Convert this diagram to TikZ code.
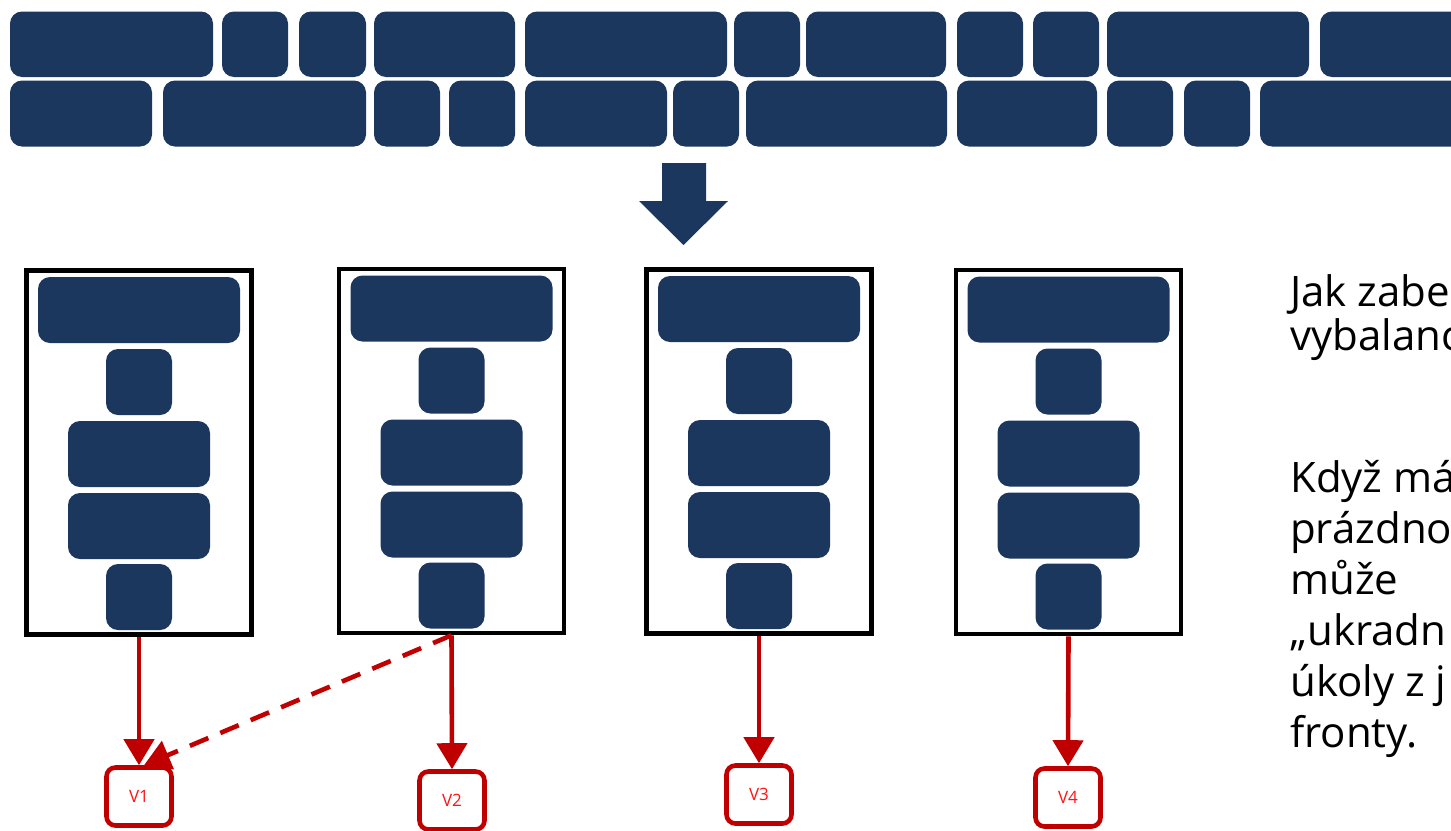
\documentclass[tikz,border=0pt]{standalone}
\usepackage{fontspec}
\setmainfont{Open Sans}
\usetikzlibrary{arrows.meta,calc}
\definecolor{navy}{RGB}{27,55,94}
\definecolor{dred}{RGB}{192,0,0}
\definecolor{lred}{RGB}{255,20,20}
\tikzset{
  blk/.style={fill=navy, rounded corners=12pt},
  frame/.style={draw=black, line width=4.6pt, minimum width=225pt, minimum height=364pt, inner sep=0pt},
  vbox/.style={draw=dred, line width=4.6pt, rounded corners=9pt, minimum width=65pt, minimum height=58pt, inner sep=0pt, text=lred, font=\fontsize{17}{19}\selectfont},
  harrow/.style={draw=dred, line width=4.6pt, -{Triangle[length=26pt,width=30pt]}},
  dasharrow/.style={harrow, dash pattern=on 20pt off 13pt},
  txt/.style={anchor=base west, inner sep=0pt, font=\fontsize{42}{46}\selectfont}
}
\newcommand{\worker}[3]{%
  \node[frame] (f#1) at (#2,#3) {};
  \fill[blk] ({#2-101},{#3-175.5}) rectangle ({#2+101},{#3-109.5});
  \fill[blk] ({#2-33},{#3-103.5}) rectangle ({#2+33},{#3-37.5});
  \fill[blk] ({#2-71},{#3-31.5}) rectangle ({#2+71},{#3+34.5});
  \fill[blk] ({#2-71},{#3+40.5}) rectangle ({#2+71},{#3+106.5});
  \fill[blk] ({#2-33},{#3+111.5}) rectangle ({#2+33},{#3+177.5});
}
\begin{document}
\begin{tikzpicture}[x=1pt,y=-1pt]
\useasboundingbox (0,0) rectangle (1451,830);
\clip (0,0) rectangle (1451,830);
% top queue rows
\foreach \a/\b in {10/213, 222/288, 299/366, 374/515, 525/727, 734/800, 806/946, 957/1023, 1033/1099, 1107/1309, 1320/1470}
  \fill[blk] (\a,11.5) rectangle (\b,77);
\foreach \a/\b in {10/152, 163/366, 374/440, 449/515, 525/667, 673/739, 746/947, 957/1097, 1107/1173, 1184/1250, 1260/1470}
  \fill[blk] (\a,80.5) rectangle (\b,146.5);
% big down arrow
\fill[navy] (662,163) -- (706,163) -- (706,201) -- (728,201) -- (683.5,245) -- (639,201) -- (662,201) -- cycle;
% workers
\worker{1}{139}{452.5}
\worker{2}{451.5}{451}
\worker{3}{759}{451.5}
\worker{4}{1068.5}{452}
% V boxes
\node[vbox] (v1) at (139,796.5) {V1};
\node[vbox] (v2) at (452,800.5) {V2};
\node[vbox] (v3) at (759,794.5) {V3};
\node[vbox] (v4) at (1068,797.5) {V4};
% arrows
\draw[harrow] (f1.south) -- (v1.north);
\draw[harrow] (f2.south) -- (v2.north);
\draw[harrow] (f3.south) -- (v3.north);
\draw[harrow] (f4.south) -- (v4.north);
\draw[dasharrow] (f2.south) -- ($(v1.north)+(5,0)$);
% text
\node[txt] (t1) at (1290,306) {Jak zabe};
\node[txt] (t2) at (1290,350) {vybalanc};
\node[txt] (t3) at (1290,492) {Když má};
\node[txt] (t4) at (1290,543) {prázdno};
\node[txt] (t5) at (1290,594) {může};
\node[txt] (t6) at (1290,645) {„ukradn};
\node[txt] (t7) at (1290,696) {úkoly z j};
\node[txt] (t8) at (1290,747) {fronty.};
\end{tikzpicture}
\end{document}
